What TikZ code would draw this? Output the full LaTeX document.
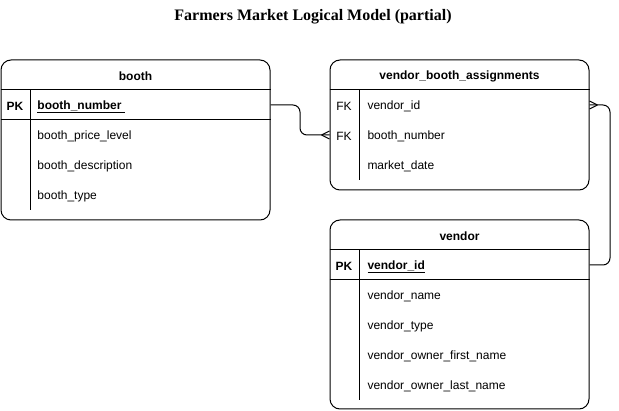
\documentclass[tikz,border=0pt]{standalone}
\usepackage{fontspec}
\setmainfont{Liberation Serif}
\setsansfont{Liberation Sans}
\usetikzlibrary{positioning,calc}

\begin{document}
\begin{tikzpicture}[x=1pt,y=-1pt,line width=1pt,
   every node/.style={font=\sffamily\fontsize{12}{14}\selectfont,yshift=-1.5pt},
   tbl/.style={draw,rounded corners=10pt,inner sep=0pt,yshift=1.5pt},
   fld/.style={anchor=west,inner sep=0pt},
   keyc/.style={inner sep=0pt},
   hdr/.style={inner sep=0pt,font=\sffamily\bfseries\fontsize{12}{14}\selectfont},
   conn/.style={rounded corners=7pt}]
   \useasboundingbox (0,0) rectangle (619,411);
   \node[font=\rmfamily\bfseries\fontsize{16}{18}\selectfont] (title) at (313,15)
	{Farmers Market Logical Model (partial)};
  % booth
   \node[tbl,minimum width=269,minimum height=160] (booth) at (135.5,140) {};
   \node[hdr] (booth-h) at (135.5,75) {booth};
   \draw (booth.west |- 0,90) -- (booth.east |- 0,90);
   \draw (booth.west |- 0,120) -- (booth.east |- 0,120);
   \draw (30,90) -- (30,210);
   \node[hdr] (booth-k) at (15,105) {PK};
   \node[fld,font=\sffamily\bfseries\fontsize{12}{14}\selectfont] (booth-pk) at (37,105)
	{\underline{booth\_number\ }};
   \node[fld] (booth-f1) at (37,135) {booth\_price\_level};
   \node[fld] (booth-f2) at (37,165) {booth\_description};
   \node[fld] (booth-f3) at (37,195) {booth\_type};
  % vendor_booth_assignments
   \node[tbl,minimum width=259,minimum height=130] (vba) at (459.5,125) {};
   \node[hdr] (vba-h) at (459.5,75) {vendor\_booth\_assignments};
   \draw (vba.west |- 0,90) -- (vba.east |- 0,90);
   \draw (359,90) -- (359,180);
   \node[keyc] (vba-k1) at (344,105) {FK};
   \node[keyc] (vba-k2) at (344,135) {FK};
   \node[fld] (vba-vid) at (367,105) {vendor\_id};
   \node[fld] (vba-bn) at (367,135) {booth\_number};
   \node[fld] (vba-md) at (367,165) {market\_date};
  % vendor
   \node[tbl,minimum width=259,minimum height=189] (vendor) at (459.5,314.5) {};
   \node[hdr] (vendor-h) at (459.5,235) {vendor};
   \draw (vendor.west |- 0,250) -- (vendor.east |- 0,250);
   \draw (vendor.west |- 0,280) -- (vendor.east |- 0,280);
   \draw (359,250) -- (359,400);
   \node[hdr] (vendor-k) at (344,265) {PK};
   \node[fld,font=\sffamily\bfseries\fontsize{12}{14}\selectfont] (vendor-pk) at (367,265)
	{\underline{vendor\_id}};
   \node[fld] (vendor-f1) at (367,295) {vendor\_name};
   \node[fld] (vendor-f2) at (367,325) {vendor\_type};
   \node[fld] (vendor-f3) at (367,355) {vendor\_owner\_first\_name};
   \node[fld] (vendor-f4) at (367,385) {vendor\_owner\_last\_name};
  % relationships
   \draw[conn] (booth.east |- 0,105) -- (300,105) |- (vba.west |- 0,135);
   \draw (vba.west |- 0,135) ++(-8,0) -- ++(8,-4) ++(-8,4) -- ++(8,4);
   \draw[conn] (vba.east |- 0,105) -- (610,105) |- (vendor.east |- 0,265);
   \draw (vba.east |- 0,105) ++(8,0) -- ++(-8,-4) ++(8,4) -- ++(-8,4);
\end{tikzpicture}
\end{document}
